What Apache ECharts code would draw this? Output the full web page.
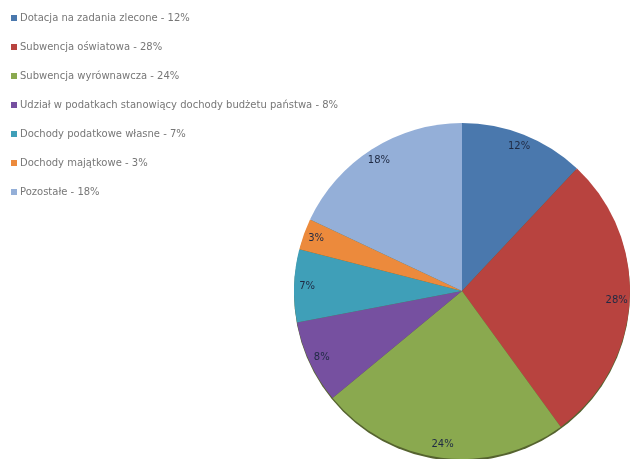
<!DOCTYPE html>
<html><head><meta charset="utf-8">
<script src="https://cdn.jsdelivr.net/npm/echarts@6/dist/echarts.min.js"></script>
<style>html,body{margin:0;padding:0;background:#fff}#c{width:634px;height:459px}</style>
</head><body><div id="c"></div>
<script>
const categories = [
  "Dotacja na zadania zlecone",
  "Subwencja oświatowa",
  "Subwencja wyrównawcza",
  "Udział w podatkach stanowiący dochody budżetu państwa",
  "Dochody podatkowe własne",
  "Dochody majątkowe",
  "Pozostałe"
];
const values = [12, 28, 24, 8, 7, 3, 18];
const colors = ["#4a78ad", "#b8433f", "#8aa94f", "#7650a0", "#3f9fb8", "#ec8a3c", "#94afd8"];

const data = categories.map((n, i) => ({ name: n, value: values[i], itemStyle: { color: colors[i] } }));
const valueByName = Object.fromEntries(categories.map((n, i) => [n, values[i]]));

const chart = echarts.init(document.getElementById('c'));
chart.setOption({
  animation: false,
  legend: {
    orient: 'vertical', left: 6, top: 8,
    itemWidth: 6, itemHeight: 6, itemGap: 19,
    icon: 'rect',
    textStyle: { fontFamily: 'DejaVu Sans', fontSize: 10, color: '#777', padding: [0,0,0,-2] },
    formatter: n => n + ' - ' + valueByName[n] + '%',
    data: categories
  },
  series: [
    {
      type: 'pie', center: [462, 293], radius: 168, startAngle: 90, z: 1,
      silent: true, legendHoverLink: false,
      label: { show: false }, labelLine: { show: false },
      itemStyle: { color: '#55632f', borderWidth: 0 },
      data: [{ name: '_shadow', value: 1 }]
    },
    {
      type: 'pie', center: [462, 291], radius: 168, startAngle: 90, clockwise: true, z: 2,
      silent: true, legendHoverLink: false,
      label: { show: false }, labelLine: { show: false },
      itemStyle: { borderWidth: 0 },
      data: data
    },
    {
      type: 'pie', center: [462, 291], radius: [136, 168], startAngle: 90, clockwise: true, z: 3,
      silent: true, legendHoverLink: false,
      itemStyle: { color: 'transparent', borderWidth: 0 },
      label: { show: true, position: 'inside', formatter: p => p.value + '%',
               fontFamily: 'DejaVu Sans', fontSize: 10, color: '#1f2a44' },
      labelLine: { show: false },
      data: categories.map((n, i) => ({ name: n, value: values[i], itemStyle: { color: 'transparent' } }))
    }
  ]
});
</script></body></html>
